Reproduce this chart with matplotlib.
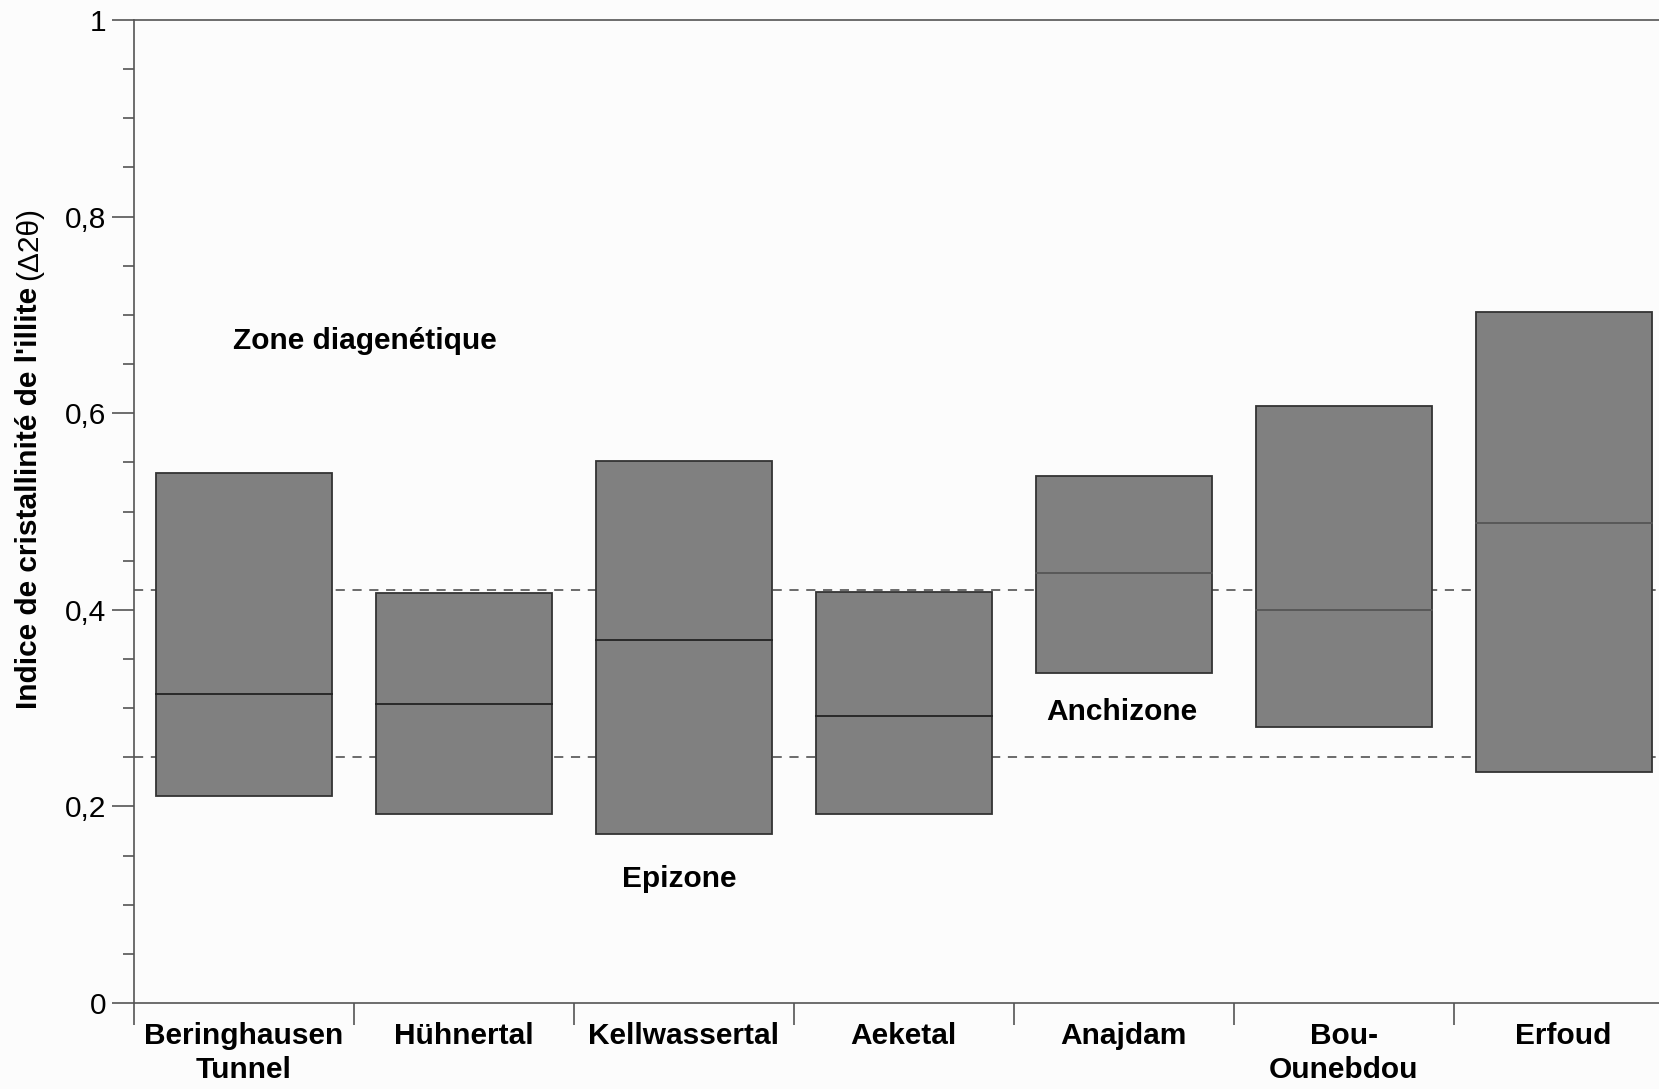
import numpy as np
import matplotlib.pyplot as plt
from matplotlib.patches import Rectangle

plt.rcParams['font.family'] = ['Liberation Sans', 'DejaVu Sans']

#%% data

sites = ["Beringhausen\nTunnel", "Hühnertal", "Kellwassertal", "Aeketal",
         "Anajdam", "Bou-\nOunebdou", "Erfoud"]
ic_min = [0.211, 0.192, 0.172, 0.192, 0.336, 0.281, 0.235]
ic_max = [0.539, 0.417, 0.551, 0.418, 0.536, 0.607, 0.703]
ic_med = [0.314, 0.304, 0.369, 0.292, 0.437, 0.400, 0.488]

limites = [0.25, 0.42]
zones = ["Zone diagenétique", "Anchizone", "Epizone"]
zone_x = [0.55, 3.99, 1.98]
zone_y = [0.673, 0.296, 0.126]

#%%

fig = plt.figure(figsize=(16.59, 10.89), dpi=100)
fig.patch.set_facecolor('#fcfcfc')
ax = fig.add_axes([0.0808, 0.079, 0.928, 0.9026])
ax.set_facecolor('#fcfcfc')

for lim in limites:
    ax.axhline(lim, color='#444444', lw=1.1, ls=(0, (6, 5)), zorder=1)

w = 0.8
for i in range(len(sites)):
    ax.add_patch(Rectangle((i - w/2, ic_min[i]), w, ic_max[i] - ic_min[i],
                           facecolor='#808080', edgecolor='#333333', lw=1.3, zorder=2))
    c = '#222222' if i < 4 else '#555555'
    ax.plot([i - w/2, i + w/2], [ic_med[i], ic_med[i]], color=c, lw=1.3, zorder=3)

for t, x, y in zip(zones, zone_x, zone_y):
    ax.text(x, y, t, ha='center', va='center', fontsize=21.5, fontweight='bold')

ax.set_xlim(-0.5, len(sites) - 0.5)
ax.set_ylim(0, 1)

ax.set_xticks(np.arange(-0.5, len(sites) - 1, 1))
ax.set_xticks(np.arange(len(sites)), minor=True)
ax.set_xticklabels([])
ax.set_xticklabels(sites, minor=True, fontsize=21.5, fontweight='bold', linespacing=1.25)
ax.tick_params(axis='x', which='major', length=16, width=1.2, color='#555555', direction='out')
ax.tick_params(axis='x', which='minor', length=0, pad=14)

ax.set_yticks(np.arange(0, 1.01, 0.2))
ax.set_yticks(np.arange(0, 1.01, 0.05), minor=True)
ax.set_yticklabels(["0", "0,2", "0,4", "0,6", "0,8", "1"], fontsize=21.5)
ax.tick_params(axis='y', which='major', length=16, width=1.2, color='#555555', pad=4)
ax.tick_params(axis='y', which='minor', length=8, width=1.2, color='#555555')

for s in ['left', 'bottom', 'top']:
    ax.spines[s].set_color('#555555')
    ax.spines[s].set_linewidth(1.2)
ax.spines['right'].set_visible(False)

# axis label: bold part then the unit in regular weight
t1 = fig.text(0.0175, 1 - 498/1089, "Indice de cristallinité de l'illite", rotation=90,
              ha='center', va='center', fontsize=21.5, fontweight='bold')
fig.canvas.draw()
bb = t1.get_window_extent().transformed(fig.transFigure.inverted())
fig.text(0.0175, bb.y1 + 0.006, "(Δ2θ)", rotation=90, ha='center', va='bottom', fontsize=21.5)

plt.savefig("out.png", dpi=100, facecolor=fig.get_facecolor())
